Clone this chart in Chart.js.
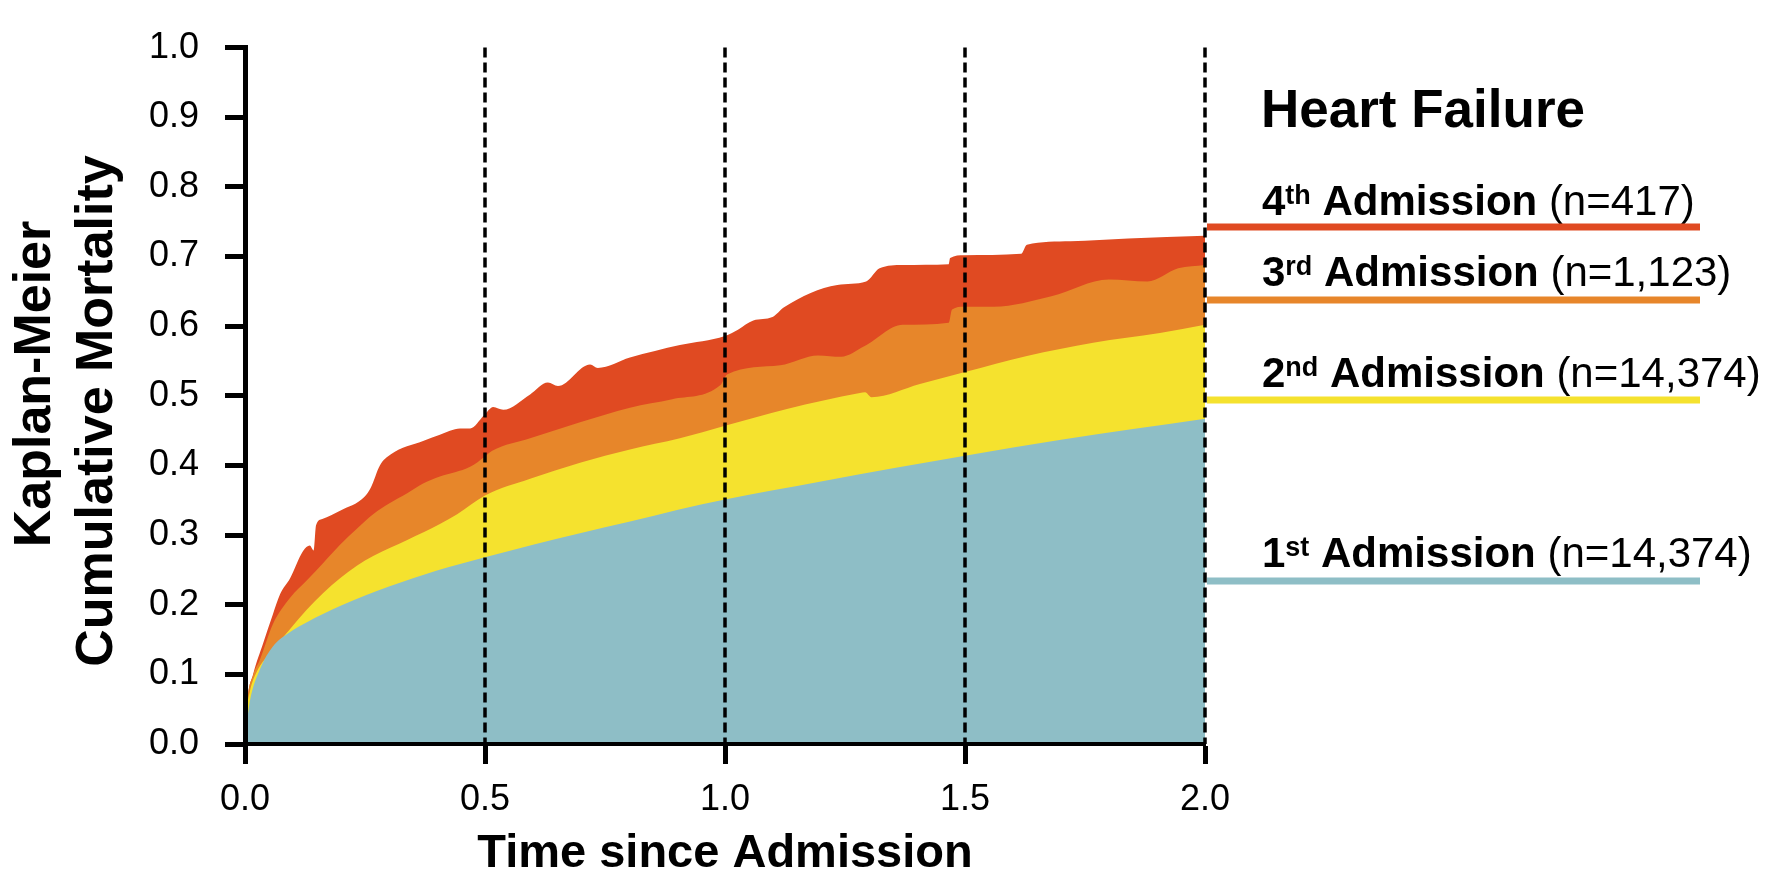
<!DOCTYPE html>
<html>
<head>
<meta charset="utf-8">
<script src="https://cdn.jsdelivr.net/npm/chart.js@4.4.1/dist/chart.umd.min.js"></script>
<style>
html,body{margin:0;padding:0;background:#fff;}
canvas{display:block;}
</style>
</head>
<body>
<canvas id="c" width="1784" height="878"></canvas>
<script>
// ---- data ----
const t1 = [0, 0.004, 0.010, 0.031, 0.058, 0.094, 0.129, 0.198, 0.3, 0.4, 0.5, 0.6, 0.7, 0.8, 0.9, 1.0, 1.2, 1.35, 1.5, 1.7, 2.0];
const m1 = [0, 0.030, 0.061, 0.107, 0.140, 0.161, 0.175, 0.198, 0.226, 0.249, 0.268, 0.286, 0.303, 0.319, 0.336, 0.351, 0.377, 0.396, 0.414, 0.437, 0.467];

const t2 = [0, 0.003, 0.010, 0.024, 0.058, 0.094, 0.129, 0.163, 0.198, 0.233, 0.267, 0.338, 0.406, 0.442, 0.5, 0.594, 0.698, 0.802, 0.906, 1.0, 1.129, 1.281, 1.292, 1.305, 1.406, 1.5, 1.629, 1.767, 1.906, 2.0];
const m2 = [0, 0.043, 0.075, 0.103, 0.135, 0.165, 0.193, 0.217, 0.238, 0.256, 0.270, 0.293, 0.316, 0.330, 0.357, 0.381, 0.404, 0.423, 0.439, 0.457, 0.481, 0.504, 0.505, 0.498, 0.517, 0.534, 0.557, 0.576, 0.590, 0.602];

const t3 = [0, 0.004, 0.017, 0.031, 0.058, 0.094, 0.129, 0.163, 0.198, 0.233, 0.267, 0.302, 0.338, 0.371, 0.406, 0.469, 0.5, 0.515, 0.594, 0.698, 0.802, 0.89, 0.99, 1.005, 1.115, 1.194, 1.242, 1.29, 1.37, 1.466, 1.473, 1.498, 1.56, 1.68, 1.8, 1.88, 1.944, 2.0];
const m3 = [0, 0.055, 0.099, 0.121, 0.172, 0.210, 0.235, 0.260, 0.286, 0.309, 0.330, 0.346, 0.360, 0.374, 0.384, 0.398, 0.413, 0.421, 0.439, 0.462, 0.483, 0.495, 0.515, 0.531, 0.544, 0.558, 0.556, 0.571, 0.602, 0.605, 0.624, 0.628, 0.628, 0.643, 0.667, 0.664, 0.683, 0.688];

const t4 = [0, 0.005, 0.017, 0.038, 0.058, 0.073, 0.094, 0.121, 0.135, 0.143, 0.148, 0.161, 0.198, 0.249, 0.262, 0.281, 0.304, 0.371, 0.406, 0.448, 0.469, 0.498, 0.517, 0.538, 0.594, 0.631, 0.652, 0.719, 0.735, 0.802, 0.906, 1.0, 1.027, 1.059, 1.099, 1.123, 1.234, 1.294, 1.322, 1.37, 1.466, 1.469, 1.498, 1.617, 1.629, 1.72, 1.84, 2.0];
const m4 = [0, 0.060, 0.100, 0.145, 0.186, 0.215, 0.238, 0.277, 0.285, 0.278, 0.314, 0.323, 0.335, 0.355, 0.368, 0.400, 0.416, 0.435, 0.444, 0.453, 0.453, 0.472, 0.484, 0.480, 0.502, 0.519, 0.514, 0.545, 0.540, 0.555, 0.573, 0.586, 0.595, 0.608, 0.613, 0.627, 0.659, 0.664, 0.683, 0.688, 0.689, 0.698, 0.702, 0.704, 0.717, 0.722, 0.726, 0.730];

const xTicks = [0, 0.5, 1.0, 1.5, 2.0];
const yTicks = [0, 0.1, 0.2, 0.3, 0.4, 0.5, 0.6, 0.7, 0.8, 0.9, 1.0];
const refLines = [0.5, 1.0, 1.5, 2.0];

const legendTitle = 'Heart Failure';
const legendOrdinals = ['4', '3', '2', '1'];
const legendSup = ['th', 'rd', 'nd', 'st'];
const legendWord = 'Admission';
const legendN = ['(n=417)', '(n=1,123)', '(n=14,374)', '(n=14,374)'];
const yTitle = ['Kaplan-Meier', 'Cumulative Mortality'];
const xTitle = 'Time since Admission';

// ---- style ----
const FONT = '"Liberation Sans", Arial, Helvetica, sans-serif';
const colors = ['#8EBEC6', '#F5E22E', '#E7862A', '#E04A22']; // 1st, 2nd, 3rd, 4th

const pts = (t, m) => t.map((v, i) => ({x: v, y: m[i]}));

const refLinePlugin = {
  id: 'refLines',
  afterDatasetsDraw(chart) {
    const {ctx, chartArea, scales: {x}} = chart;
    ctx.save();
    ctx.strokeStyle = '#000';
    ctx.lineWidth = 3.5;
    ctx.setLineDash([10, 5]);
    refLines.forEach(v => {
      const px = Math.round(x.getPixelForValue(v));
      ctx.beginPath();
      ctx.moveTo(px, chartArea.top);
      ctx.lineTo(px, chartArea.bottom);
      ctx.stroke();
    });
    ctx.restore();
  }
};

const textPlugin = {
  id: 'texts',
  afterDraw(chart) {
    const {ctx} = chart;
    ctx.save();
    ctx.fillStyle = '#000';
    ctx.textBaseline = 'alphabetic';
    // y-axis title (two rotated lines)
    ctx.font = 'bold 52px ' + FONT;
    ctx.textAlign = 'center';
    const yPos = [[50, 384], [112, 411]];
    yTitle.forEach((s, i) => {
      ctx.save();
      ctx.translate(yPos[i][0], yPos[i][1]);
      ctx.rotate(-Math.PI / 2);
      ctx.fillText(s, 0, 0);
      ctx.restore();
    });
    // side legend
    ctx.textAlign = 'left';
    ctx.font = 'bold 53px ' + FONT;
    ctx.fillText(legendTitle, 1261, 127);
    const baselines = [215, 286, 387, 567];
    const lineYs = [227, 300, 400, 581];
    const seriesIdx = [3, 2, 1, 0];
    for (let i = 0; i < 4; i++) {
      let x = 1262;
      const y = baselines[i];
      ctx.fillStyle = '#000';
      ctx.font = 'bold 42px ' + FONT;
      ctx.fillText(legendOrdinals[i], x, y);
      x += ctx.measureText(legendOrdinals[i]).width;
      ctx.font = 'bold 27px ' + FONT;
      ctx.fillText(legendSup[i], x, y - 11);
      x += ctx.measureText(legendSup[i]).width;
      ctx.font = 'bold 42px ' + FONT;
      const w = ' ' + legendWord;
      ctx.fillText(w, x, y);
      x += ctx.measureText(w).width;
      ctx.font = '42px ' + FONT;
      ctx.fillText(' ' + legendN[i], x, y);
      ctx.fillStyle = colors[seriesIdx[i]];
      ctx.fillRect(1207, lineYs[i] - 3.5, 493, 7);
    }
    ctx.restore();
  }
};

new Chart(document.getElementById('c'), {
  type: 'line',
  data: {
    datasets: [
      {label: '1st Admission', data: pts(t1, m1), backgroundColor: colors[0]},
      {label: '2nd Admission', data: pts(t2, m2), backgroundColor: colors[1]},
      {label: '3rd Admission', data: pts(t3, m3), backgroundColor: colors[2]},
      {label: '4th Admission', data: pts(t4, m4), backgroundColor: colors[3]}
    ].map(d => Object.assign(d, {
      fill: 'origin', borderWidth: 0, pointRadius: 0, pointHoverRadius: 0,
      cubicInterpolationMode: 'monotone', borderColor: 'rgba(0,0,0,0)'
    }))
  },
  options: {
    responsive: false,
    animation: false,
    devicePixelRatio: 1,
    layout: {padding: {left: 0, top: 25, right: 579, bottom: 0}},
    plugins: {legend: {display: false}, tooltip: {enabled: false}},
    events: [],
    scales: {
      x: {
        type: 'linear', min: 0, max: 2,
        afterBuildTicks: s => { s.ticks = xTicks.map(v => ({value: v})); },
        afterFit: s => { s.height = 134; },
        grid: {drawOnChartArea: false, drawTicks: true, tickLength: 20, tickWidth: 5, tickColor: '#000'},
        border: {display: true, color: '#000', width: 4, z: 1},
        ticks: {
          autoSkip: false, maxRotation: 0, padding: 14, color: '#000',
          font: {family: FONT, size: 36},
          callback: v => Number(v).toFixed(1)
        },
        title: {
          display: true, text: xTitle, color: '#000',
          font: {family: FONT, size: 47, weight: 'bold', lineHeight: 1.04},
          padding: {top: 0, bottom: 0}
        }
      },
      y: {
        type: 'linear', min: 0, max: 1,
        afterBuildTicks: s => { s.ticks = yTicks.map(v => ({value: v})); },
        afterFit: s => { s.width = 245; },
        grid: {drawOnChartArea: false, drawTicks: true, tickLength: 20, tickWidth: 5, tickColor: '#000'},
        border: {display: true, color: '#000', width: 5, z: 1},
        ticks: {
          autoSkip: false, padding: 26, color: '#000',
          font: {family: FONT, size: 36},
          callback: v => Number(v).toFixed(1)
        }
      }
    }
  },
  plugins: [refLinePlugin, textPlugin]
});
</script>
</body>
</html>
